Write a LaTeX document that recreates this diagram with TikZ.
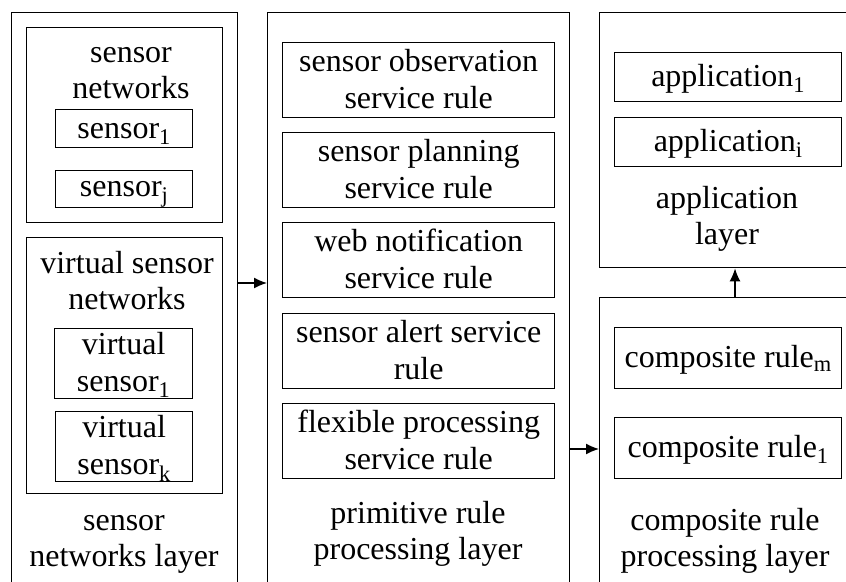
\documentclass[tikz,border=0pt]{standalone}
\usepackage{fontspec}
\setmainfont{Liberation Serif}
\usetikzlibrary{arrows.meta}
\newcommand\fs{\fontsize{32}{36.8}\selectfont}
\newcommand\mystrut{\rule[-7pt]{0pt}{33pt}}
\tikzset{
  frame/.style={draw, line width=1.4pt, rectangle, inner sep=0pt, anchor=north west},
  box/.style={draw, line width=1.4pt, rectangle, inner sep=0pt, align=center, anchor=north west, font=\fs},
  title/.style={align=center, inner sep=0pt, font=\fs},
  arr/.style={line width=1.4pt, -{Latex[length=13pt,width=11pt]}}
}
\begin{document}
\begin{tikzpicture}[x=1pt,y=-1pt]
\useasboundingbox (0,0) rectangle (846,581);
\clip (0,0) rectangle (846,581);
% layer frames
\node[frame, minimum width=226pt, minimum height=700pt] (L) at (11,12) {};
\node[frame, minimum width=302pt, minimum height=700pt] (M) at (267,12) {};
\node[frame, minimum width=300pt, minimum height=255pt] (A) at (599,12) {};
\node[frame, minimum width=300pt, minimum height=400pt] (C) at (599,297) {};
% sensor networks layer
\node[frame, minimum width=196pt, minimum height=195pt] (SN) at (26,27) {};
\node[title] (tSN) at (131,71) {\mystrut sensor\\\mystrut networks};
\node[box, minimum width=137pt, minimum height=38pt] (s1) at (55,109) {\mystrut sensor\textsubscript{1}};
\node[box, minimum width=137pt, minimum height=37pt] (sj) at (55,170) {\mystrut sensor\textsubscript{j}};
\node[frame, minimum width=196pt, minimum height=256pt] (VSN) at (26,237) {};
\node[title] (tVSN) at (127,282) {\mystrut virtual sensor\\\mystrut networks};
\node[box, minimum width=138pt, minimum height=68pt] (vs1) at (54,328) {\mystrut virtual\\\mystrut sensor\textsubscript{1}};
\node[box, minimum width=137pt, minimum height=68pt] (vsk) at (55,411) {\mystrut virtual\\\mystrut sensor\textsubscript{k}};
\node[title] (tL) at (124,539) {\mystrut sensor\\\mystrut networks layer};
% primitive rule processing layer
\node[box, minimum width=272pt, minimum height=75pt] (r1) at (282,42) {\mystrut sensor observation\\\mystrut service rule};
\node[box, minimum width=272pt, minimum height=75pt] (r2) at (282,132) {\mystrut sensor planning\\\mystrut service rule};
\node[box, minimum width=272pt, minimum height=75pt] (r3) at (282,222) {\mystrut web notification\\\mystrut service rule};
\node[box, minimum width=272pt, minimum height=75pt] (r4) at (282,313) {\mystrut sensor alert service\\\mystrut rule};
\node[box, minimum width=272pt, minimum height=75pt] (r5) at (282,403) {\mystrut flexible processing\\\mystrut service rule};
\node[title] (tM) at (418,532) {\mystrut primitive rule\\\mystrut processing layer};
% application layer
\node[box, minimum width=227pt, minimum height=49pt] (a1) at (614,52) {\mystrut application\textsubscript{1}};
\node[box, minimum width=227pt, minimum height=49pt] (ai) at (614,117) {\mystrut application\textsubscript{i}};
\node[title] (tA) at (727,217) {\mystrut application\\\mystrut layer};
% composite rule processing layer
\node[box, minimum width=227pt, minimum height=61pt] (cm) at (614,327) {\mystrut composite rule\textsubscript{m}};
\node[box, minimum width=227pt, minimum height=61pt] (c1) at (614,417) {\mystrut composite rule\textsubscript{1}};
\node[title] (tC) at (725,539) {\mystrut composite rule\\\mystrut processing layer};
% connectors
\draw[arr] (L.east |- 0,283) -- (M.west |- 0,283);
\draw[arr] (M.east |- 0,449) -- (C.west |- 0,449);
\draw[arr] (735,0 |- C.north) -- (735,0 |- A.south);
\end{tikzpicture}
\end{document}
